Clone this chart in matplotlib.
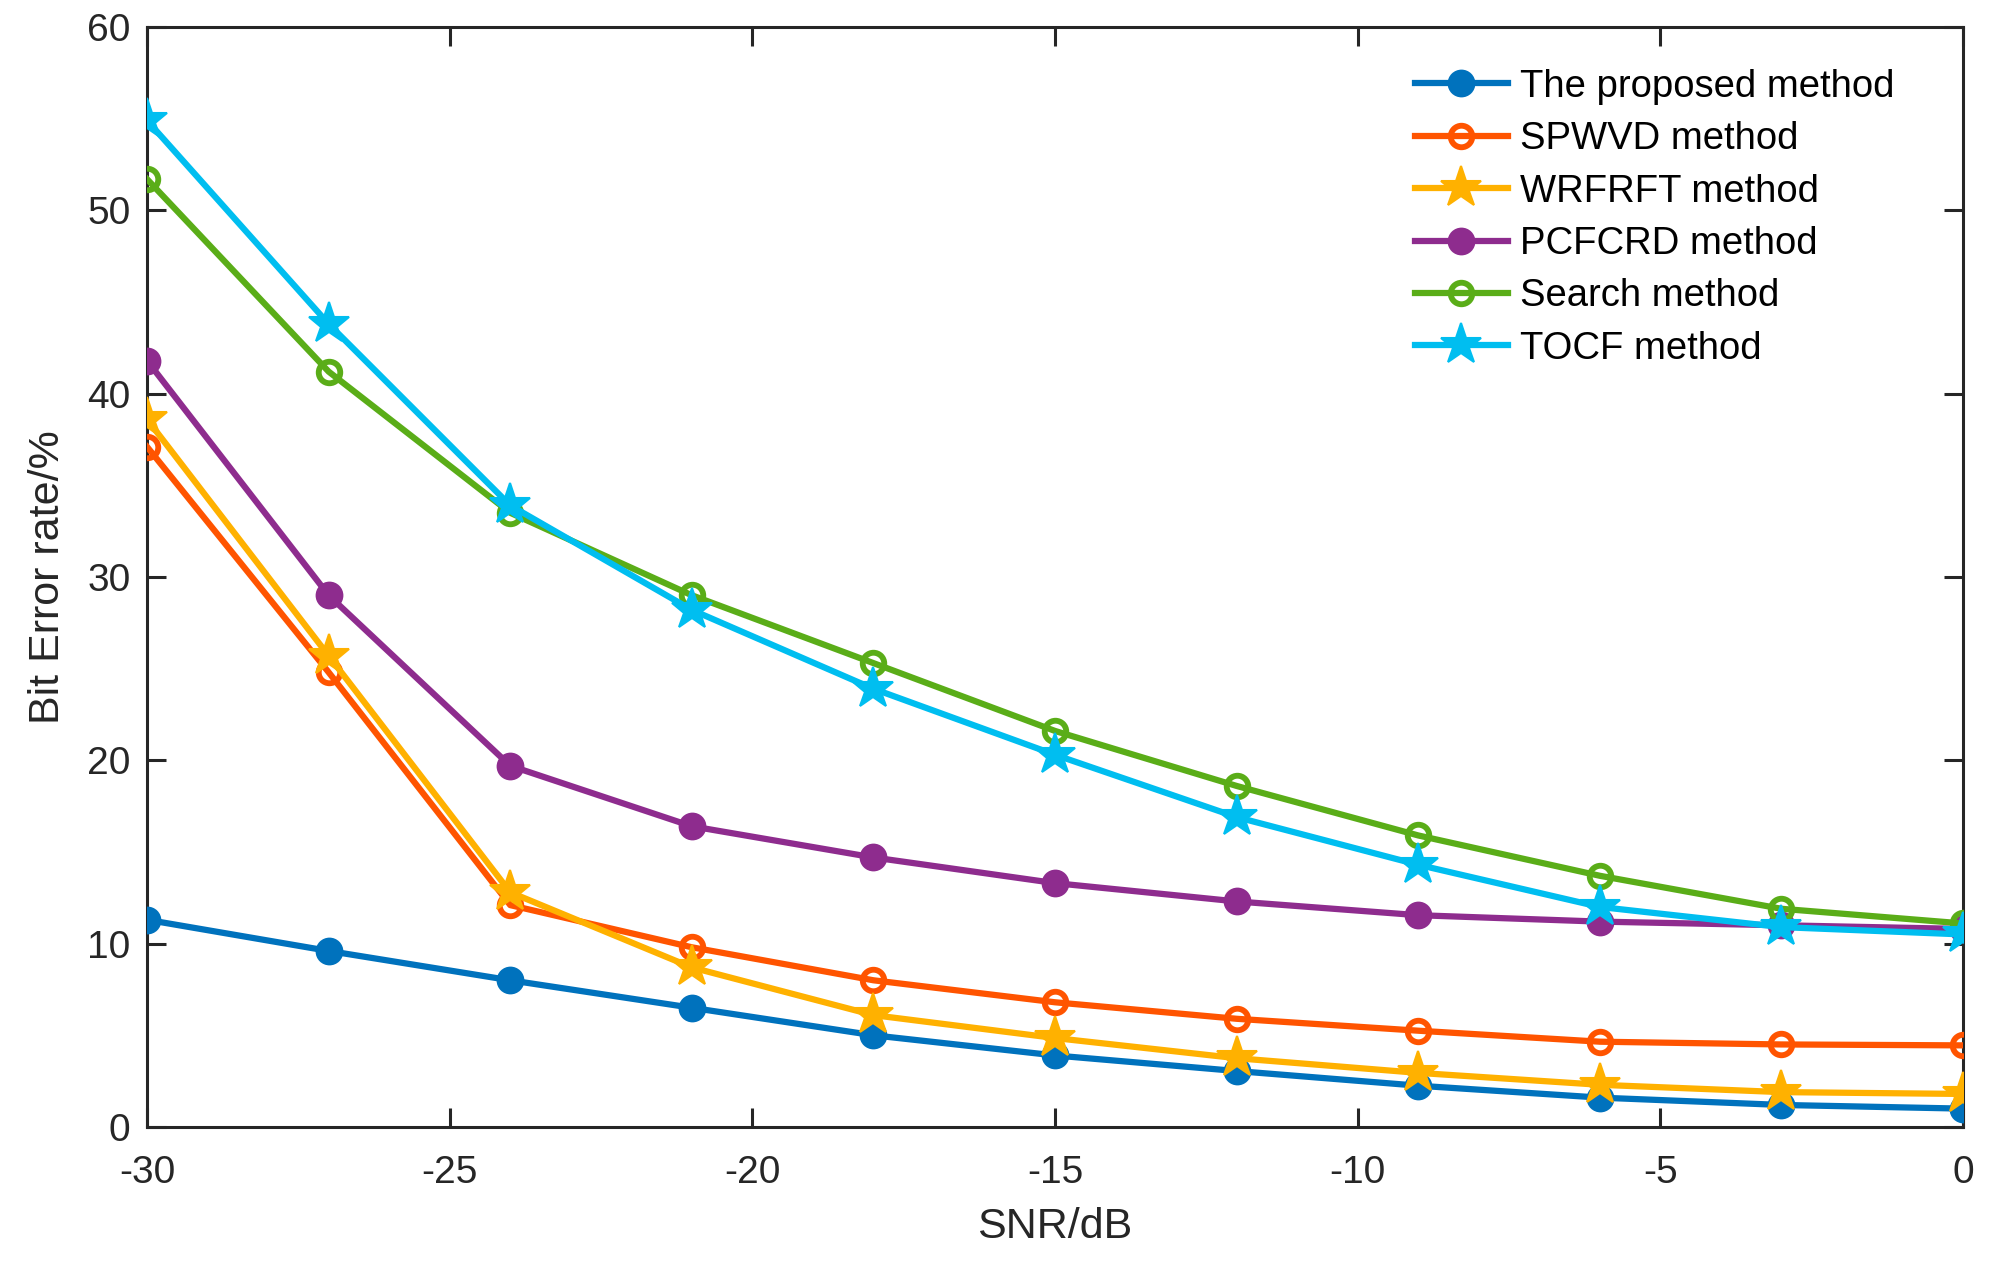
import numpy as np
import matplotlib
matplotlib.use("Agg")
import matplotlib.pyplot as plt

plt.rcParams['font.family'] = ['Liberation Sans', 'DejaVu Sans']
plt.rcParams['axes.unicode_minus'] = False

snr = [-30, -27, -24, -21, -18, -15, -12, -9, -6, -3, 0]
proposed = [11.3, 9.6, 8.0, 6.5, 5.0, 3.9, 3.05, 2.25, 1.6, 1.2, 1.0]
spwvd = [37.1, 24.8, 12.1, 9.8, 8.0, 6.8, 5.9, 5.25, 4.65, 4.5, 4.45]
wrfrft = [38.6, 25.7, 12.8, 8.7, 6.1, 4.85, 3.75, 2.95, 2.3, 1.9, 1.8]
pcfcrd = [41.8, 29.0, 19.7, 16.4, 14.7, 13.3, 12.3, 11.55, 11.2, 11.0, 10.8]
search = [51.7, 41.2, 33.5, 29.0, 25.3, 21.6, 18.6, 15.9, 13.7, 11.9, 11.1]
tocf = [54.9, 43.8, 33.9, 28.2, 23.9, 20.3, 16.9, 14.3, 12.0, 10.9, 10.5]

labels = ['The proposed method', 'SPWVD method', 'WRFRFT method',
          'PCFCRD method', 'Search method', 'TOCF method']
colors = ['#0072BD', '#FF5400', '#FFB100', '#8E2C8E', '#5AAD18', '#00BEF0']

xticks = [-30, -25, -20, -15, -10, -5, 0]
yticks = [0, 10, 20, 30, 40, 50, 60]

fig = plt.figure(figsize=(20.06, 12.77), dpi=100)
ax = fig.add_axes([0.0733, 0.1175, 0.9053, 0.8614])

lw = 4.5
ax.plot(snr, proposed, color=colors[0], lw=lw, marker='o', ms=17, mew=3,
        mfc=colors[0], mec=colors[0], label=labels[0])
ax.plot(snr, spwvd, color=colors[1], lw=lw, marker='o', ms=15.5, mew=4.2,
        mfc='none', mec=colors[1], label=labels[1])
ax.plot(snr, wrfrft, color=colors[2], lw=lw, marker='*', ms=31, mew=1.5,
        mfc=colors[2], mec=colors[2], label=labels[2])
ax.plot(snr, pcfcrd, color=colors[3], lw=lw, marker='o', ms=17, mew=3,
        mfc=colors[3], mec=colors[3], label=labels[3])
ax.plot(snr, search, color=colors[4], lw=lw, marker='o', ms=15.5, mew=4.2,
        mfc='none', mec=colors[4], label=labels[4])
ax.plot(snr, tocf, color=colors[5], lw=lw, marker='*', ms=31, mew=1.5,
        mfc=colors[5], mec=colors[5], label=labels[5])

ax.set_xlim(-30, 0)
ax.set_ylim(0, 60)
ax.set_xticks(xticks)
ax.set_yticks(yticks)
ax.set_xticklabels([str(t) for t in xticks])
ax.set_yticklabels([str(t) for t in yticks])

axcol = '#262626'
for s in ax.spines.values():
    s.set_linewidth(2.2)
    s.set_color(axcol)
    s.set_zorder(0.5)
ax.tick_params(direction='in', length=14, width=2.2, colors=axcol,
               labelsize=28, top=True, right=True, labelcolor='#262626')
ax.tick_params(axis='x', pad=20)
ax.tick_params(axis='y', pad=12)

ax.set_xlabel('SNR/dB', fontsize=31, color=axcol, labelpad=12)
ax.set_ylabel('Bit Error rate/%', fontsize=31, color=axcol, labelpad=14)

ax.legend(loc='upper left', bbox_to_anchor=(0.698, 0.962), frameon=False,
          fontsize=27.5, handlelength=2.45, handletextpad=0.3,
          labelspacing=0.43, borderpad=0, borderaxespad=0)

fig.savefig('out.png', dpi=100)
